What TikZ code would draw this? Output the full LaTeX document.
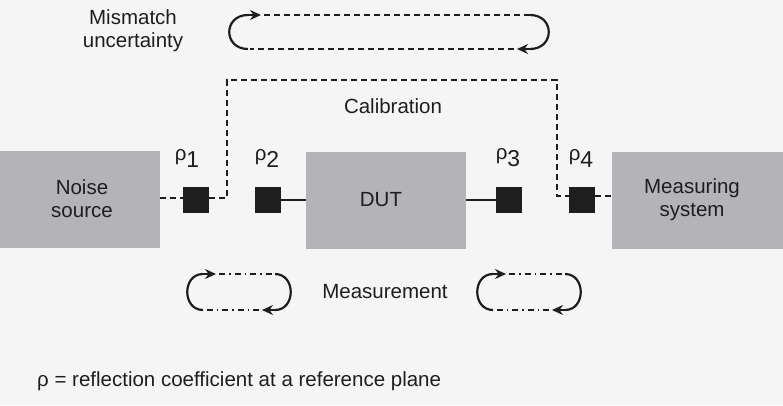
\documentclass[tikz,border=0pt]{standalone}
\usepackage{fontspec}
\setmainfont{Liberation Sans}
\usetikzlibrary{arrows.meta}
\definecolor{bg}{HTML}{F5F5F5}
\definecolor{boxg}{HTML}{B4B3B8}
\definecolor{ink}{HTML}{1E1E1E}
\begin{document}
\begin{tikzpicture}[x=1pt,y=-1pt,
  box/.style={fill=boxg,draw=none,inner sep=0},
  sq/.style={fill=ink,draw=none,minimum size=26pt,inner sep=0},
  lbl/.style={font=\fontsize{20.5}{23}\selectfont,text=ink,inner sep=0},
  dsh/.style={draw=ink,line width=1.4pt,dash pattern=on 6pt off 4pt},
  dshdot/.style={draw=ink,line width=1.4pt,dash pattern=on 6pt off 4pt on 1.5pt off 4pt},
  arc/.style={draw=ink,line width=2.2pt},
  tip/.style={draw=ink,line width=1.4pt,-{Stealth[length=11pt,width=10pt]}}]
\fill[bg] (0,0) rectangle (783,405);
\useasboundingbox (0,0) rectangle (783,405);
\node[box,minimum width=160pt,minimum height=97pt,align=center] (ns) at (80,199) {};
\node[lbl,align=center] at (82,199) {Noise\\source};
\node[box,minimum width=160pt,minimum height=97pt] (dut) at (386,200) {};
\node[lbl] at (381,200) {DUT};
\node[box,minimum width=171pt,minimum height=97pt] (ms) at (697.5,200) {};
\node[lbl,align=center] at (692,200) {Measuring\\system};
\node[sq] (p1) at (196,200) {};
\node[sq] (p2) at (268,200) {};
\node[sq] (p3) at (509,200) {};
\node[sq] (p4) at (582,200) {};
\node[lbl] at (187,158) {ρ\raisebox{-7pt}{\fontsize{23}{23}\selectfont 1}};
\node[lbl] at (267,158) {ρ\raisebox{-7pt}{\fontsize{23}{23}\selectfont 2}};
\node[lbl] at (508,158) {ρ\raisebox{-7pt}{\fontsize{23}{23}\selectfont 3}};
\node[lbl] at (581,158) {ρ\raisebox{-7pt}{\fontsize{23}{23}\selectfont 4}};
\draw[ink,line width=1.4pt] (p2.east) -- (dut.west);
\draw[ink,line width=1.4pt] (dut.east) -- (p3.west);
\draw[dsh] (ns.east|-0,198) -- (p1.west|-0,198);
\coordinate (c1) at (227,198);
\coordinate (c2) at (557,196);
\draw[dsh] (p1.east|-0,198) -- (c1) -- (227,80) -- (557,80) -- (c2) -- (p4.west|-0,196);
\draw[dsh] (p4.east|-0,196) -- (ms.west|-0,196);
\node[lbl] at (393,106) {Calibration};
\node[lbl,align=center] at (133,31) {Mismatch\\uncertainty};
\node[lbl] at (385,292) {Measurement};
\node[lbl,anchor=west] at (37,381) {ρ = reflection coefficient at a reference plane};
% top loop
\draw[arc] (248,49) .. controls (223,49) and (223,15) .. (248,15);
\draw[tip] (246,15) -- (261,15);
\draw[dsh] (264,15) -- (530,15);
\draw[arc] (530,15) .. controls (555,15) and (555,49) .. (530,49);
\draw[tip] (532,49) -- (517,49);
\draw[dsh] (514,49) -- (250,49);
% measurement loops
\foreach \x in {0,290}{
  \draw[arc] (203+\x,310) .. controls (182+\x,310) and (182+\x,274) .. (203+\x,274);
  \draw[tip] (201+\x,274) -- (216+\x,274);
  \draw[dshdot] (219+\x,274) -- (275+\x,274);
  \draw[arc] (275+\x,274) .. controls (296+\x,274) and (296+\x,310) .. (275+\x,310);
  \draw[tip] (277+\x,310) -- (262+\x,310);
  \draw[dshdot] (259+\x,310) -- (205+\x,310);
}
\end{tikzpicture}
\end{document}
